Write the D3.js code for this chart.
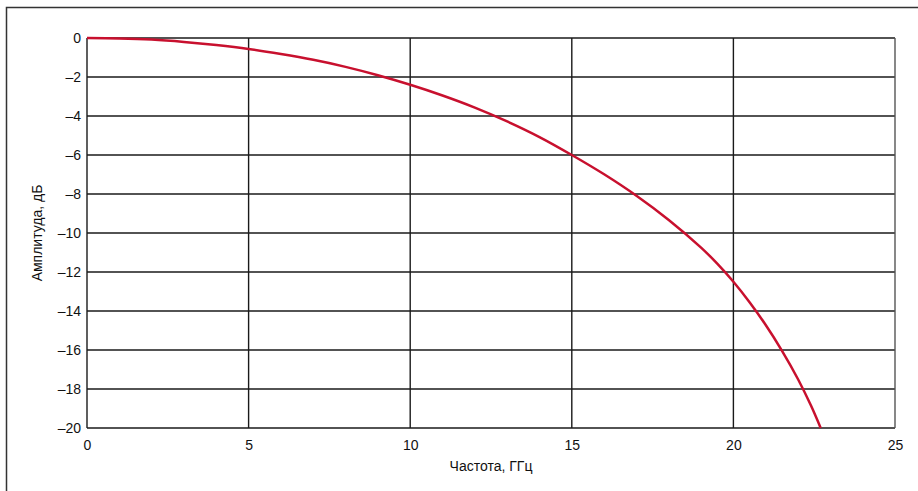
<!DOCTYPE html>
<html>
<head>
<meta charset="utf-8">
<script src="https://cdn.jsdelivr.net/npm/d3@7"></script>
<style>
  body { margin: 0; background: #fff; }
  text { font-family: "Liberation Sans", Arial, sans-serif; fill: #111; }
</style>
</head>
<body>
<div id="chart"></div>
<script>
// Данные
const freqGHz = [0, 1, 2, 3, 4, 5, 6, 7, 8, 9, 10, 11, 12, 13, 14, 15, 16, 17, 18, 19, 19.5, 20, 20.5, 21, 21.5, 22, 22.4, 22.7];
const ampDb   = [0, -0.02, -0.08, -0.2, -0.36, -0.56, -0.82, -1.12, -1.48, -1.91, -2.4, -2.95, -3.57, -4.28, -5.08, -6, -6.99, -8.09, -9.33, -10.75, -11.57, -12.5, -13.55, -14.72, -16.03, -17.5, -18.85, -20];
const xTicks = [0, 5, 10, 15, 20, 25];
const yTicks = [0, -2, -4, -6, -8, -10, -12, -14, -16, -18, -20];

const W = 918, H = 491;
const margin = { top: 38, right: 23, bottom: 63, left: 87 };
const width = W - margin.left - margin.right;
const height = H - margin.top - margin.bottom;

const svgRoot = d3.select("#chart").append("svg")
    .attr("width", W)
    .attr("height", H);

// Рамка вокруг рисунка
svgRoot.append("rect")
    .attr("x", 6.5).attr("y", 7.5)
    .attr("width", 930).attr("height", 500)
    .attr("fill", "none")
    .attr("stroke", "#333")
    .attr("stroke-width", 1.5);

const svg = svgRoot.append("g")
    .attr("transform", `translate(${margin.left},${margin.top})`);

const x = d3.scaleLinear().domain([0, 25]).range([0, width]);
const y = d3.scaleLinear().domain([0, -20]).range([0, height]);

const fmt = d => d < 0 ? "\u2013" + Math.abs(d) : String(d);

// Сетка
svg.append("g")
    .selectAll("line")
    .data(yTicks)
    .join("line")
    .attr("x1", 0).attr("x2", width)
    .attr("y1", d => y(d)).attr("y2", d => y(d))
    .attr("stroke", "#1a1a1a")
    .attr("stroke-width", 1.4);

svg.append("g")
    .selectAll("line")
    .data(xTicks)
    .join("line")
    .attr("y1", 0).attr("y2", height)
    .attr("x1", d => x(d)).attr("x2", d => x(d))
    .attr("stroke", d => d === 25 ? "#555" : "#1a1a1a")
    .attr("stroke-width", 1.4);

// Оси (только подписи)
const yAxis = d3.axisLeft(y).tickValues(yTicks).tickSize(0).tickPadding(6).tickFormat(fmt);
const gy = svg.append("g").call(yAxis);
gy.select(".domain").remove();
gy.selectAll("text").attr("font-size", 14).attr("dy", "0.35em");

const xAxis = d3.axisBottom(x).tickValues(xTicks).tickSize(0).tickPadding(12).tickFormat(fmt);
const gx = svg.append("g").attr("transform", `translate(0,${height})`).call(xAxis);
gx.select(".domain").remove();
gx.selectAll("text").attr("font-size", 14);

// Кривая
const data = freqGHz.map((f, i) => ({ f, a: ampDb[i] }));
const line = d3.line()
    .x(d => x(d.f))
    .y(d => y(d.a))
    .curve(d3.curveCatmullRom.alpha(0.5));

svg.append("path")
    .datum(data)
    .attr("fill", "none")
    .attr("stroke", "#c8102e")
    .attr("stroke-width", 2.5)
    .attr("d", line);

// Подписи осей
svgRoot.append("text")
    .attr("x", margin.left + x(12.5))
    .attr("y", 471)
    .attr("text-anchor", "middle")
    .attr("font-size", 14)
    .text("Частота, ГГц");

svgRoot.append("text")
    .attr("transform", `translate(42,${margin.top + height / 2}) rotate(-90)`)
    .attr("text-anchor", "middle")
    .attr("font-size", 14)
    .text("Амплитуда, дБ");
</script>
</body>
</html>
